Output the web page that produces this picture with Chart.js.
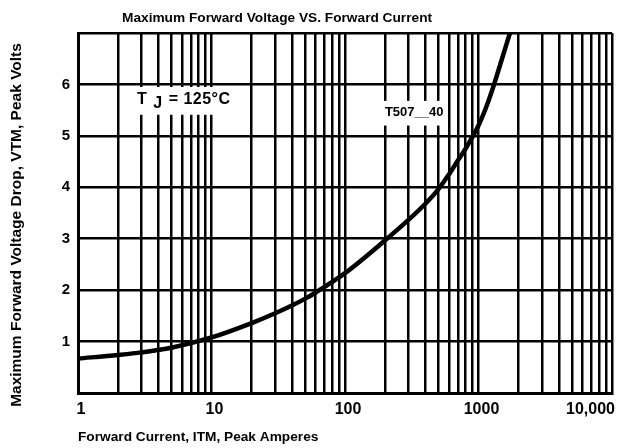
<!DOCTYPE html>
<html>
<head>
<meta charset="utf-8">
<script src="https://cdn.jsdelivr.net/npm/chart.js@4"></script>
<style>
  body { margin: 0; background: #fff; }
  #wrap { width: 622px; height: 448px; }
</style>
</head>
<body>
<div id="wrap"><canvas id="vfChart" width="622" height="448"></canvas></div>
<script>
// forward current (A) vs max forward voltage drop (V)
const currents = [1, 2, 3, 5, 10, 20, 30, 40, 50, 60, 100, 200, 300, 400, 500, 600, 700, 800, 900, 1000, 1150, 1300, 1500, 1720];
const volts = [0.67, 0.74, 0.79, 0.88, 1.08, 1.36, 1.55, 1.70, 1.83, 1.95, 2.33, 2.97, 3.37, 3.68, 3.96, 4.25, 4.52, 4.75, 4.98, 5.2, 5.58, 5.98, 6.5, 7.0];

const xTickValues = [1, 10, 100, 1000, 10000];
const xTickLabels = ['1', '10', '100', '1000', '10,000'];
const yTickValues = [1, 2, 3, 4, 5, 6];
const yTickLabels = ['1', '2', '3', '4', '5', '6'];

const titleText = 'Maximum Forward Voltage VS. Forward Current';
const xTitle = 'Forward Current, ITM, Peak Amperes';
const yTitle = 'Maximum Forward Voltage Drop, VTM, Peak Volts';

const FONT = '"Liberation Sans", Arial, sans-serif';

// all the text is painted by hand so the plot box stays where it is in the scan
const textPlugin = {
    id: 'textPlugin',
    beforeDatasetsDraw(chart) {
        const ctx = chart.ctx;
        const xs = chart.scales.x, ys = chart.scales.y;
        ctx.save();
        // white patches behind the two notes, they cut the grid lines
        ctx.fillStyle = '#fff';
        const p1 = { x: xs.getPixelForValue(2.25), y: ys.getPixelForValue(5.95) };
        const p2 = { x: xs.getPixelForValue(15.3), y: ys.getPixelForValue(5.41) };
        ctx.fillRect(p1.x, p1.y, p2.x - p1.x, p2.y - p1.y);
        const q1 = { x: xs.getPixelForValue(190), y: ys.getPixelForValue(5.68) };
        const q2 = { x: xs.getPixelForValue(550), y: ys.getPixelForValue(5.2) };
        ctx.fillRect(q1.x, q1.y, q2.x - q1.x, q2.y - q1.y);
        ctx.restore();
    },
    afterDraw(chart) {
        const ctx = chart.ctx;
        const area = chart.chartArea;
        const xs = chart.scales.x, ys = chart.scales.y;
        ctx.save();
        ctx.fillStyle = '#000';

        ctx.font = 'bold 13.7px ' + FONT;
        ctx.textAlign = 'left';
        ctx.textBaseline = 'alphabetic';
        ctx.fillText(titleText, area.left + 44, 22);

        // tick labels
        ctx.font = 'bold 15px ' + FONT;
        ctx.textBaseline = 'middle';
        ctx.textAlign = 'right';
        yTickValues.forEach((v, i) => {
            ctx.fillText(yTickLabels[i], area.left - 8, ys.getPixelForValue(v));
        });
        ctx.font = 'bold 16px ' + FONT;
        ctx.textBaseline = 'top';
        xTickValues.forEach((v, i) => {
            const px = xs.getPixelForValue(v);
            if (i === xTickValues.length - 1) {
                ctx.textAlign = 'right';
                ctx.fillText(xTickLabels[i], px + 3, area.bottom + 9);
            } else {
                ctx.textAlign = 'center';
                ctx.fillText(xTickLabels[i], px + 3, area.bottom + 9);
            }
        });

        // axis titles
        ctx.font = 'bold 13.7px ' + FONT;
        ctx.textAlign = 'left';
        ctx.textBaseline = 'alphabetic';
        ctx.fillText(xTitle, area.left, 441);

        ctx.save();
        ctx.translate(17, 225);
        ctx.rotate(-Math.PI / 2);
        ctx.font = 'bold 15.5px ' + FONT;
        ctx.textAlign = 'center';
        ctx.textBaseline = 'middle';
        ctx.fillText(yTitle, 0, 0);
        ctx.restore();

        // notes inside the plot
        ctx.font = 'bold 16px ' + FONT;
        ctx.letterSpacing = '0.5px';
        ctx.textAlign = 'left';
        ctx.textBaseline = 'middle';
        let nx = xs.getPixelForValue(2.77);
        const ny = ys.getPixelForValue(5.7);
        ctx.fillText('T', nx, ny);
        nx += ctx.measureText('T ').width + 1;
        ctx.fillText('J', nx, ny + 4);
        nx += ctx.measureText('J ').width + 1;
        ctx.fillText('= 125°C', nx, ny);

        ctx.font = 'bold 13px ' + FONT;
        ctx.letterSpacing = '0px';
        ctx.fillText('T507__40', xs.getPixelForValue(199), ys.getPixelForValue(5.45));
        ctx.restore();
    }
};

const allTicks = [];
for (const d of [1, 10, 100, 1000]) {
    for (let m = 1; m <= 9; m++) allTicks.push(m * d);
}
allTicks.push(10000);

const chartData = {
    datasets: [{
        label: 'T507__40',
        data: currents.map((c, i) => ({ x: c, y: volts[i] })),
        borderColor: '#000',
        borderWidth: 4.5,
        pointRadius: 0,
        fill: false,
        cubicInterpolationMode: 'monotone'
    }]
};

const chartOptions = {
    responsive: false,
    animation: false,
    layout: {
        padding: { left: 78, top: 33, right: 10, bottom: 55 }
    },
    plugins: {
        legend: { display: false },
        title: { display: false },
        tooltip: { enabled: false }
    },
    scales: {
        x: {
            type: 'logarithmic',
            min: 1,
            max: 10000,
            afterBuildTicks: (scale) => {
                scale.ticks = allTicks.map(v => ({ value: v }));
            },
            ticks: { display: false },
            grid: { color: '#000', lineWidth: 2.5, drawTicks: false },
            border: { display: true, color: '#000', width: 3 }
        },
        y: {
            type: 'linear',
            min: 0,
            max: 7,
            ticks: { display: false, stepSize: 1 },
            grid: { color: '#000', lineWidth: 2.5, drawTicks: false },
            border: { display: true, color: '#000', width: 3 }
        }
    }
};

const canvas = document.getElementById('vfChart');
new Chart(canvas.getContext('2d'), {
    type: 'line',
    data: chartData,
    options: chartOptions,
    plugins: [textPlugin]
});
</script>
</body>
</html>
